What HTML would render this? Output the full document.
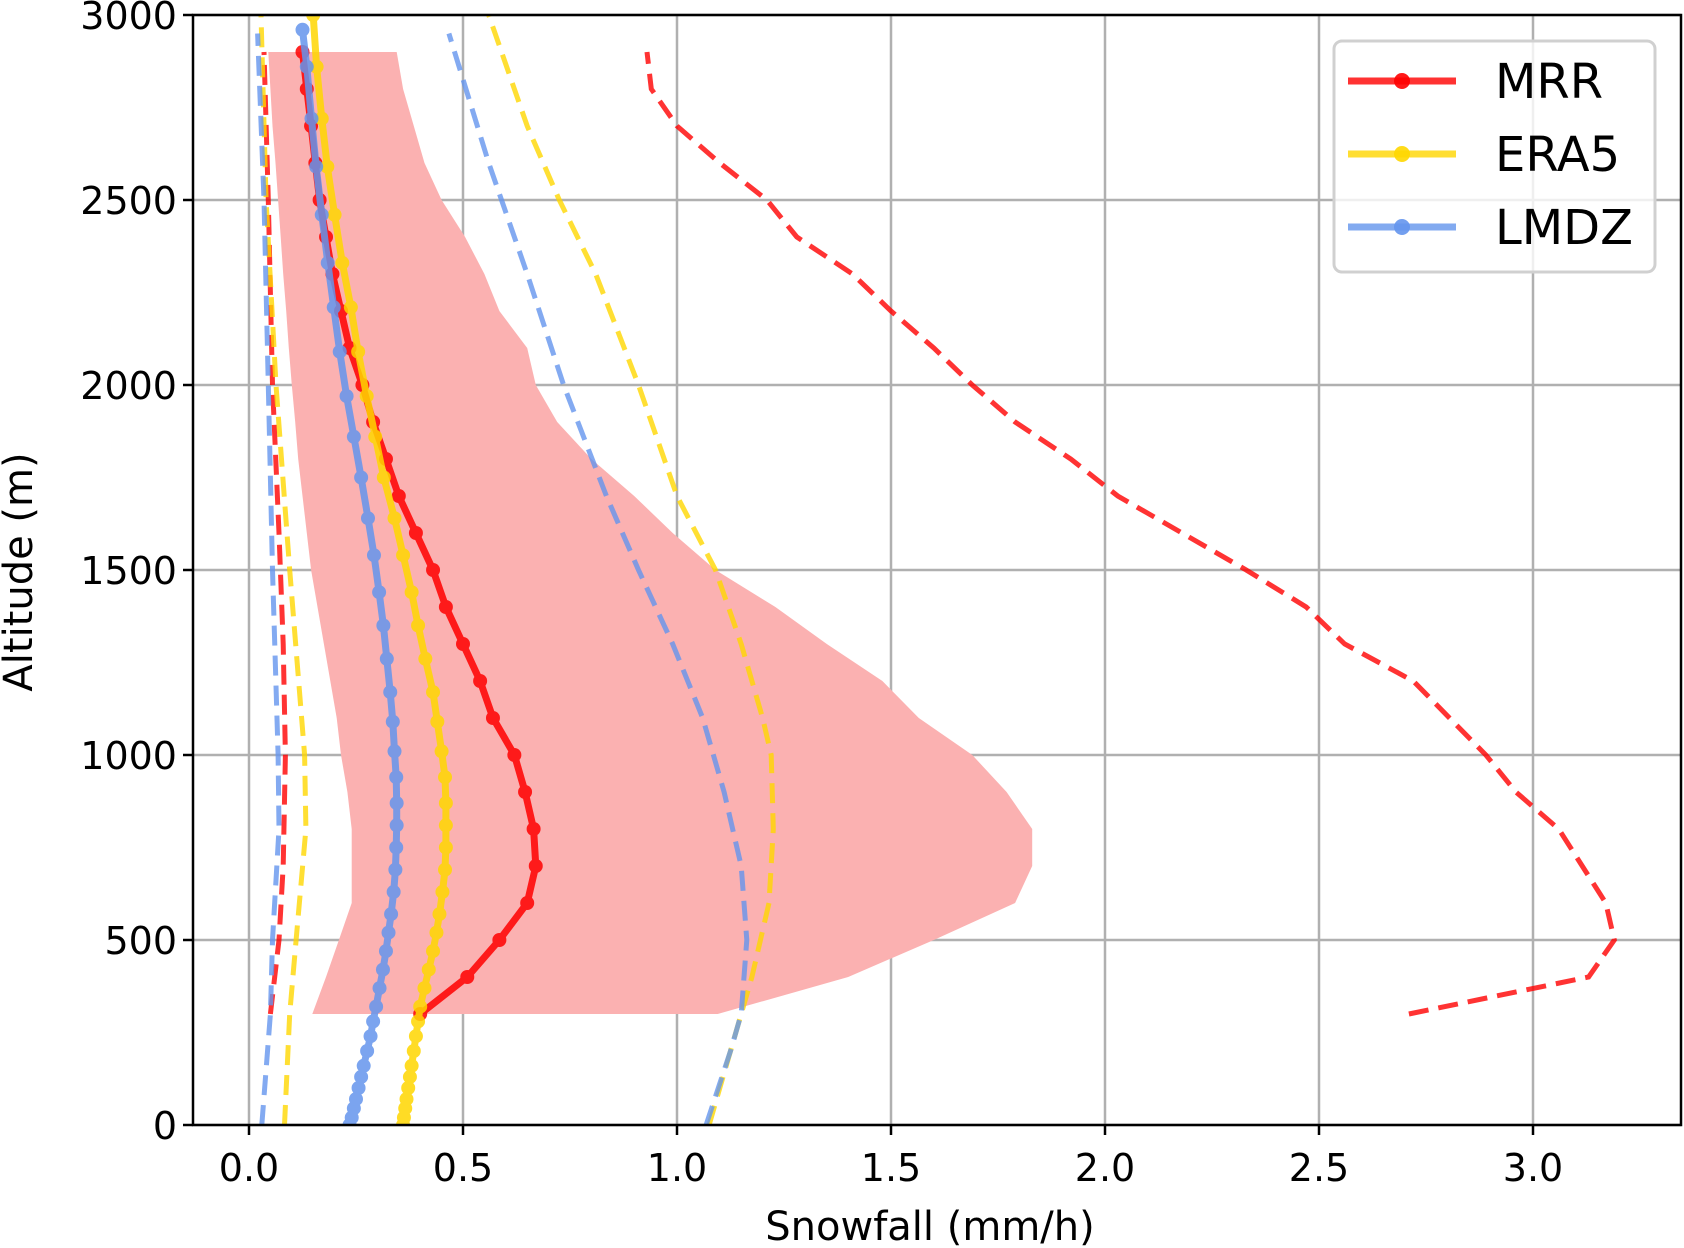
<!DOCTYPE html>
<html><head><meta charset="utf-8"><style>
html,body{margin:0;padding:0;background:#fff;}
svg{display:block;font-family:"DejaVu Sans","Liberation Sans",sans-serif;}
</style></head><body>
<svg id="chart" width="1684" height="1248" viewBox="0 0 1684 1248"></svg>
<script>
// ---- data ----
const xTicks = [0.0, 0.5, 1.0, 1.5, 2.0, 2.5, 3.0];
const yTicks = [0, 500, 1000, 1500, 2000, 2500, 3000];
const seriesNames = ["MRR", "ERA5", "LMDZ"];

const mrrAlt = [300,400,500,600,700,800,900,1000,1100,1200,1300,1400,1500,1600,1700,1800,1900,2000,2100,2200,2300,2400,2500,2600,2700,2800,2900];
const mrrMean = [0.40,0.51,0.585,0.65,0.67,0.665,0.645,0.62,0.57,0.54,0.50,0.46,0.43,0.39,0.35,0.32,0.29,0.265,0.235,0.215,0.195,0.18,0.165,0.155,0.145,0.135,0.125];
const mrrLow = [0.148,0.18,0.21,0.24,0.24,0.24,0.23,0.215,0.205,0.19,0.175,0.16,0.145,0.135,0.125,0.115,0.108,0.10,0.093,0.087,0.08,0.074,0.068,0.062,0.055,0.05,0.045];
const mrrHigh = [1.095,1.40,1.60,1.79,1.83,1.83,1.77,1.69,1.565,1.48,1.35,1.23,1.09,0.99,0.90,0.80,0.72,0.67,0.65,0.585,0.55,0.505,0.45,0.41,0.385,0.36,0.345];
const mrrMinAlt = [300,500,700,1000,1300,1600,2000,2500,2900];
const mrrMin = [0.05,0.07,0.08,0.085,0.08,0.07,0.055,0.045,0.035];
const mrrMaxAlt = [300,400,500,600,800,900,1000,1200,1300,1400,1500,1600,1700,1800,1900,2000,2100,2200,2300,2400,2500,2600,2700,2800,2900];
const mrrMax = [2.71,3.13,3.19,3.17,3.06,2.96,2.89,2.72,2.56,2.47,2.33,2.18,2.03,1.92,1.79,1.69,1.60,1.50,1.41,1.28,1.21,1.10,1.00,0.94,0.93];

const eraAlt = [0,20,45,70,100,130,160,200,240,280,320,370,420,470,520,570,630,690,750,810,870,940,1010,1090,1170,1260,1350,1440,1540,1640,1750,1860,1970,2090,2210,2330,2460,2590,2720,2860,3000];
const eraMean = [0.36,0.362,0.365,0.368,0.372,0.376,0.38,0.385,0.39,0.395,0.40,0.41,0.42,0.43,0.438,0.445,0.452,0.458,0.46,0.46,0.46,0.458,0.45,0.44,0.43,0.412,0.395,0.38,0.36,0.34,0.315,0.295,0.275,0.255,0.238,0.218,0.20,0.183,0.17,0.158,0.15];
const eraMinAlt = [0,300,500,800,1000,1500,2000,2500,3000];
const eraMin = [0.083,0.095,0.11,0.133,0.13,0.095,0.063,0.04,0.028];
const eraMaxAlt = [0,200,400,600,800,1000,1100,1300,1500,1700,2000,2300,2500,2700,3000];
const eraMax = [1.075,1.125,1.175,1.215,1.225,1.22,1.20,1.15,1.09,1.0,0.91,0.81,0.725,0.65,0.56];

const lmdzAlt = [0,20,45,70,100,130,160,200,240,280,320,370,420,470,520,570,630,690,750,810,870,940,1010,1090,1170,1260,1350,1440,1540,1640,1750,1860,1970,2090,2210,2330,2460,2590,2720,2860,2960];
const lmdzMean = [0.235,0.24,0.245,0.25,0.256,0.262,0.268,0.276,0.284,0.29,0.297,0.305,0.313,0.32,0.326,0.332,0.338,0.342,0.344,0.345,0.345,0.344,0.34,0.336,0.33,0.322,0.314,0.304,0.292,0.278,0.262,0.245,0.228,0.212,0.198,0.184,0.17,0.157,0.146,0.135,0.125];
const lmdzMinAlt = [0,300,500,800,1000,1500,2000,2500,2950];
const lmdzMin = [0.03,0.05,0.055,0.07,0.068,0.055,0.045,0.035,0.02];
const lmdzMaxAlt = [0,200,300,500,700,900,1100,1300,1500,1700,2000,2300,2600,2950];
const lmdzMax = [1.068,1.125,1.15,1.163,1.15,1.11,1.06,0.99,0.91,0.835,0.735,0.65,0.56,0.467];

// ---- axes ----
const L=193, R=1681, T=15, B=1125;
const x = v => 249 + v*428;
const y = a => B - a*(B-T)/3000;
const NS="http://www.w3.org/2000/svg";
const svg=document.getElementById('chart');
function mk(tag, attrs, parent){const e=document.createElementNS(NS,tag);for(const k in attrs)e.setAttribute(k,attrs[k]);(parent||svg).appendChild(e);return e;}
function pts(vals, alts){return vals.map((v,i)=>x(v).toFixed(1)+','+y(alts[i]).toFixed(1)).join(' ');}

const clip=mk('clipPath',{id:'plotclip'});
mk('rect',{x:L,y:T,width:R-L,height:B-T},clip);

// grid
const grid=mk('g',{});


xTicks.forEach(t=>{const l=mk('line',{x1:x(t),x2:x(t),y1:T,y2:B,stroke:'#b0b0b0','stroke-width':2.5},grid);

});
yTicks.forEach(t=>{const l=mk('line',{x1:L,x2:R,y1:y(t),y2:y(t),stroke:'#b0b0b0','stroke-width':2.5},grid);

});

const plot=mk('g',{'clip-path':'url(#plotclip)'});
// shading
const band=mk('polygon',{points:pts(mrrLow,mrrAlt)+' '+pts(mrrHigh.slice().reverse(),mrrAlt.slice().reverse()),fill:'#fbb1b1',stroke:'none'},plot);



function dashed(vals,alts,color,name){const p=mk('polyline',{points:pts(vals,alts),fill:'none',stroke:color,'stroke-width':5,'stroke-dasharray':'20,10'},plot);

}
dashed(mrrMin,mrrMinAlt,'rgba(255,0,0,0.8)','mrr-min-line');
dashed(eraMin,eraMinAlt,'rgba(255,215,0,0.8)','era5-min-line');
dashed(lmdzMin,lmdzMinAlt,'rgba(100,149,237,0.8)','lmdz-min-line');
dashed(mrrMax,mrrMaxAlt,'rgba(255,0,0,0.8)','mrr-max-line');
dashed(eraMax,eraMaxAlt,'rgba(255,215,0,0.8)','era5-max-line');
dashed(lmdzMax,lmdzMaxAlt,'rgba(100,149,237,0.8)','lmdz-max-line');

function solid(vals,alts,color,name){const g=mk('g',{opacity:0.85},plot);


mk('polyline',{points:pts(vals,alts),fill:'none',stroke:color,'stroke-width':7,'stroke-linejoin':'round'},g);
vals.forEach((v,i)=>{const c=mk('circle',{cx:x(v),cy:y(alts[i]),r:7,fill:color},g);

});}
solid(mrrMean,mrrAlt,'#ff0000','mrr-mean-line');
solid(eraMean,eraAlt,'#ffd700','era5-mean-line');
solid(lmdzMean,lmdzAlt,'#6495ed','lmdz-mean-line');

// frame
const fr=mk('rect',{x:L,y:T,width:R-L,height:B-T,fill:'none',stroke:'#000','stroke-width':2.5});



// ticks & labels
xTicks.forEach(t=>{mk('line',{x1:x(t),x2:x(t),y1:B,y2:B+10,stroke:'#000','stroke-width':2.5});
const tx=mk('text',{x:x(t),y:B+56,'text-anchor':'middle','font-size':38,fill:'#000'});tx.textContent=t.toFixed(1);

});
yTicks.forEach(t=>{mk('line',{x1:L-10,x2:L,y1:y(t),y2:y(t),stroke:'#000','stroke-width':2.5});
const tx=mk('text',{x:L-16,y:y(t)+14,'text-anchor':'end','font-size':38,fill:'#000'});tx.textContent=t;

});

const xt=mk('text',{x:(L+R)/2-7,y:1240,'text-anchor':'middle','font-size':40,fill:'#000'});xt.textContent='Snowfall (mm/h)';


const yt=mk('text',{x:0,y:0,'text-anchor':'middle','font-size':40,fill:'#000',transform:'translate(32,572) rotate(-90)'});yt.textContent='Altitude (m)';



// legend
const lg=mk('g',{});


mk('rect',{x:1334,y:41,width:321,height:231,rx:8,fill:'rgba(255,255,255,0.8)',stroke:'#d0d0d0','stroke-width':3},lg);
const lcols=['#ff0000','#ffd700','#6495ed'];
seriesNames.forEach((n,i)=>{const yy=81+i*73;
const e=mk('g',{},lg);


mk('line',{x1:1348,x2:1456,y1:yy,y2:yy,stroke:lcols[i],'stroke-width':7,opacity:0.8},e);
mk('circle',{cx:1402,cy:yy,r:8,fill:lcols[i],opacity:0.9},e);
const t=mk('text',{x:1495,y:yy+17,'font-size':48,fill:'#000'},e);t.textContent=n;});
</script>
</body></html>
